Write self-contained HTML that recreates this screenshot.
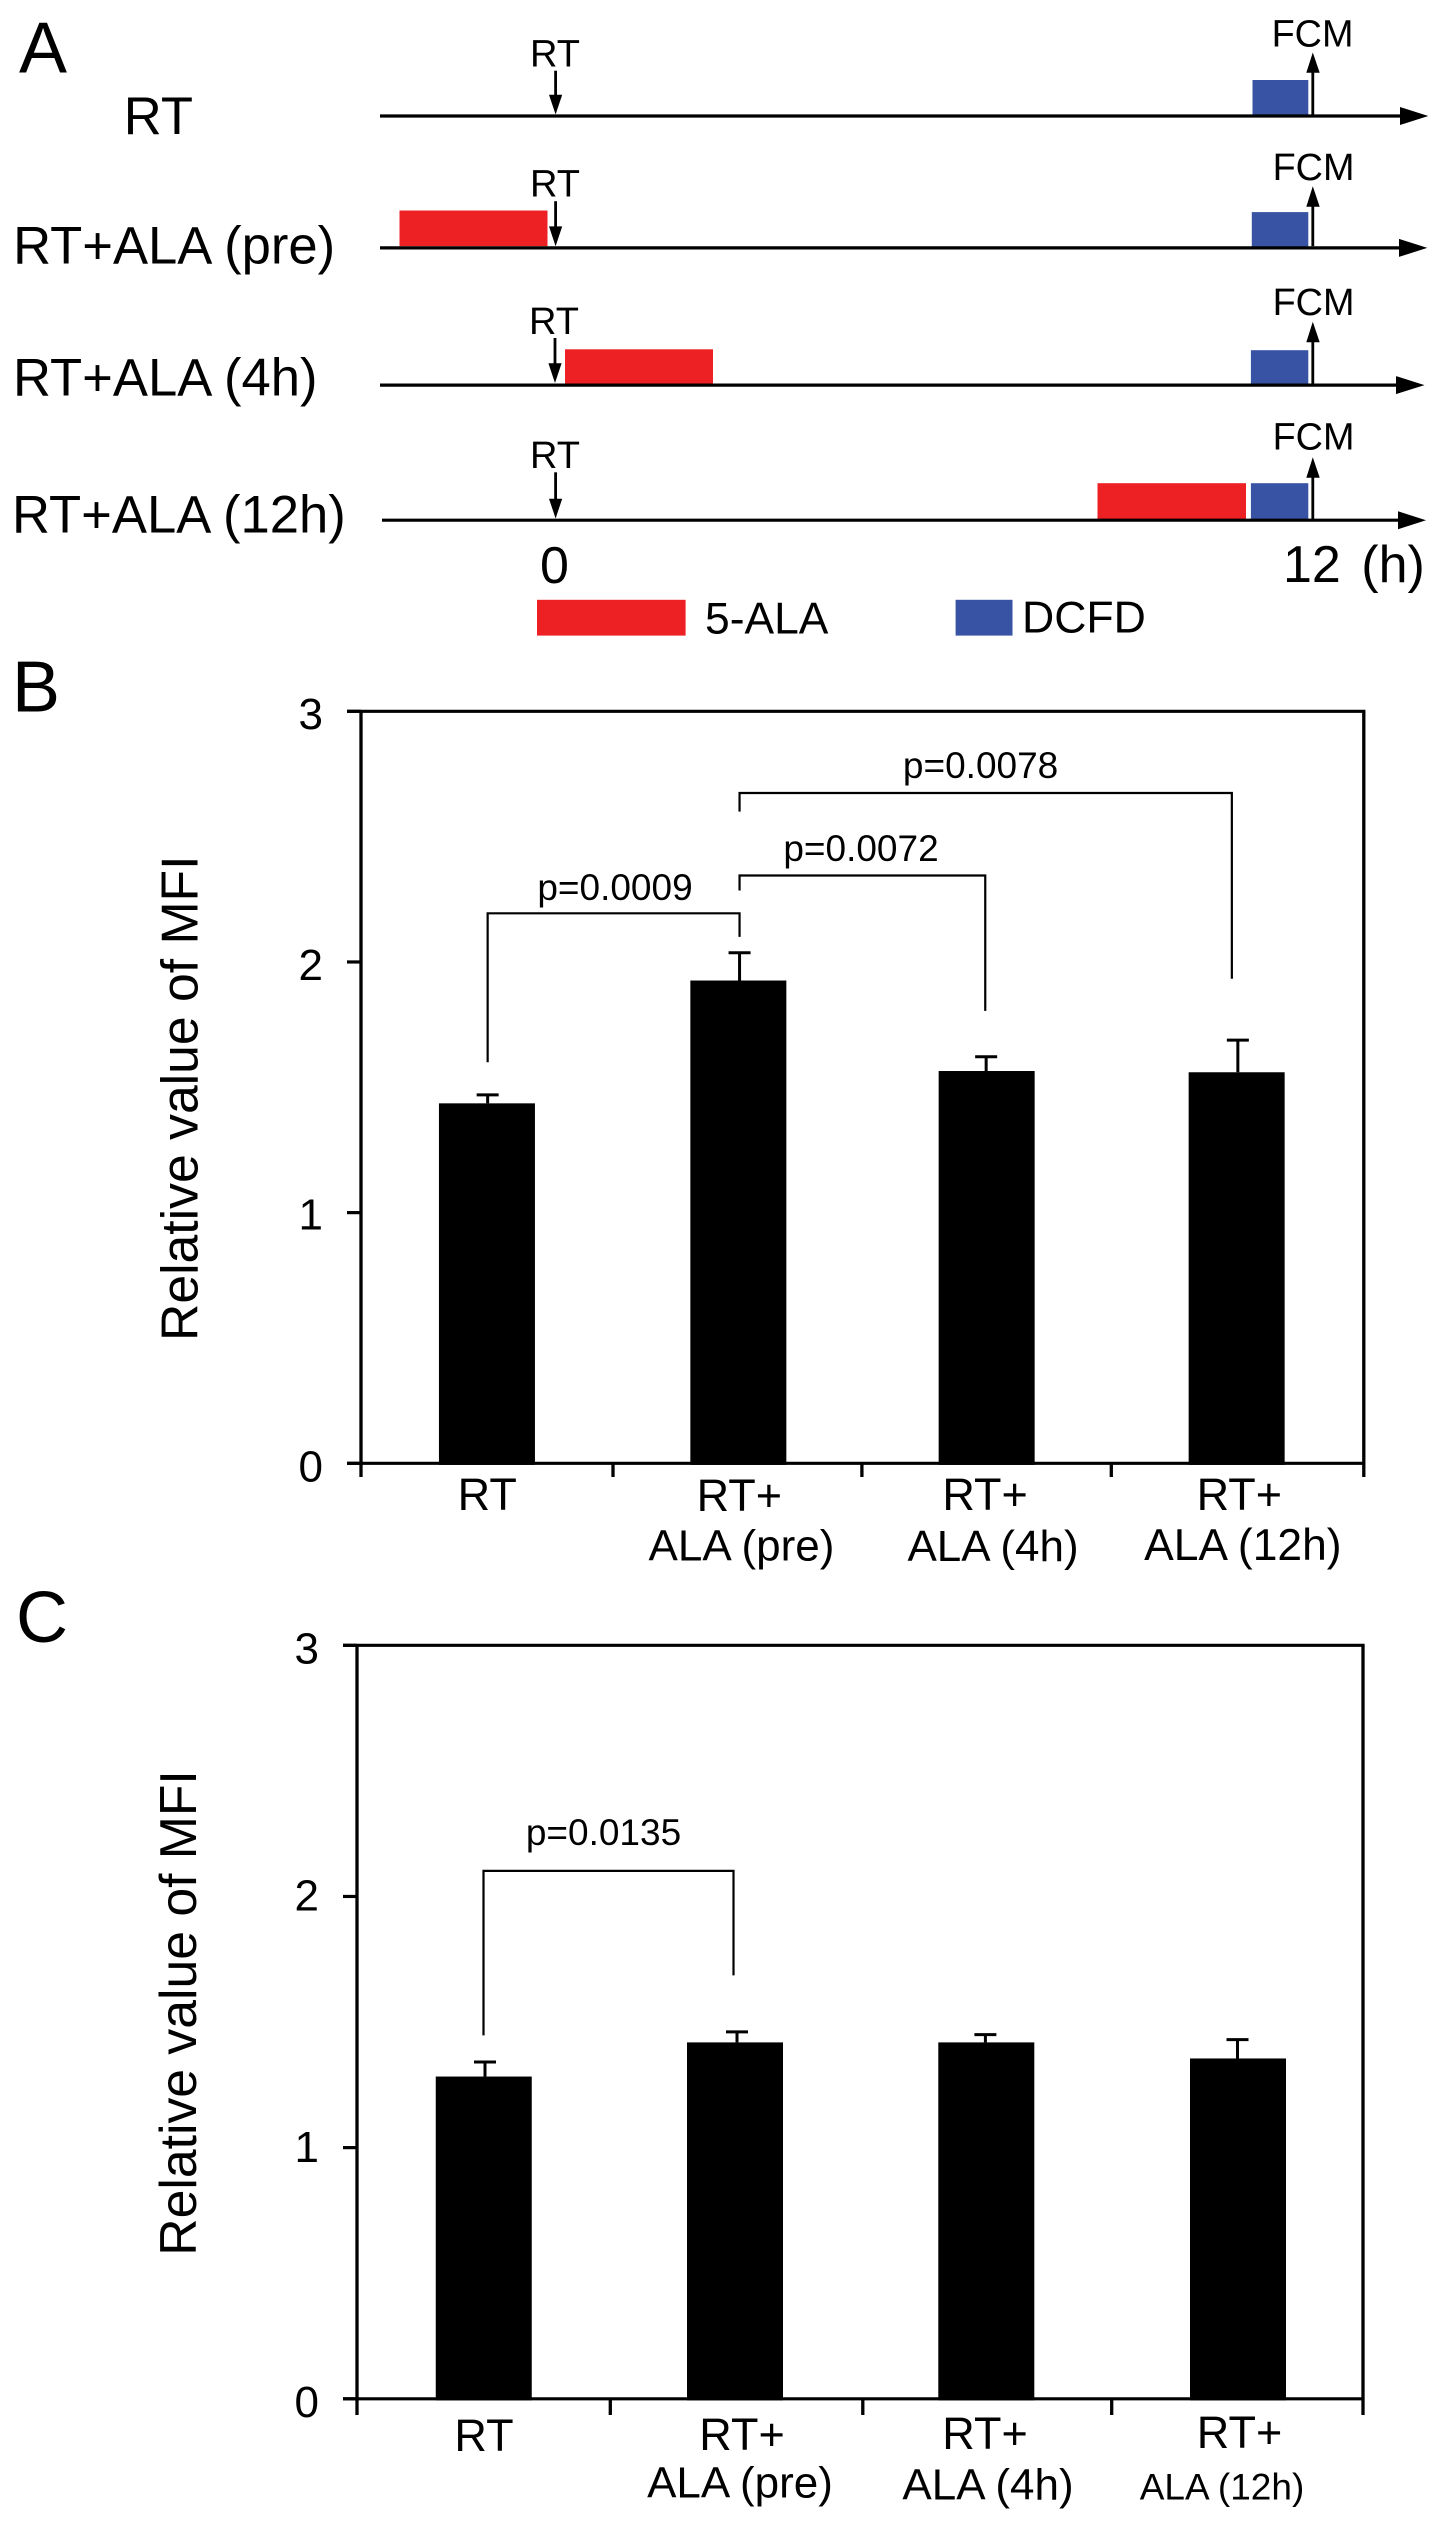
<!DOCTYPE html>
<html lang="en">
<head>
<meta charset="utf-8">
<title>Relative MFI chart</title>
<style>
html,body{margin:0;padding:0;background:#fff;}
svg{display:block;}
text{font-family:"Liberation Sans",Arial,sans-serif;fill:#000;}
</style>
</head>
<body>
<svg id="figure" xmlns="http://www.w3.org/2000/svg" width="1441" height="2523" viewBox="0 0 1441 2523">
<rect x="0" y="0" width="1441" height="2523" fill="#ffffff"/>

<g id="panel-a">
  <text x="19" y="72.4" font-size="72">A</text>

  <text x="123.8" y="133.8" font-size="52.6">RT</text>
  <text x="13.1" y="263.3" font-size="52.6">RT+ALA (pre)</text>
  <text x="13" y="395.6" font-size="52.6">RT+ALA (4h)</text>
  <text x="12" y="532.4" font-size="52.6">RT+ALA (12h)</text>

  <g>
    <rect x="399.5" y="210.5" width="148" height="35.7" fill="#ed2024"/>
    <rect x="565" y="349.3" width="148" height="35" fill="#ed2024"/>
    <rect x="1097.5" y="483.2" width="148.5" height="36" fill="#ed2024"/>
    <rect x="1252.5" y="80" width="55.8" height="35" fill="#3953a4"/>
    <rect x="1251.8" y="212.1" width="56.5" height="34.5" fill="#3953a4"/>
    <rect x="1250.9" y="350.2" width="57.4" height="34" fill="#3953a4"/>
    <rect x="1250.9" y="483.2" width="57.4" height="36" fill="#3953a4"/>
  </g>

  <g>
    <line x1="380" y1="116" x2="1403" y2="116" stroke="#000" stroke-width="3.2"/>
    <polygon points="1400,107 1428.3,116 1400,125" fill="#000"/>
    <line x1="555.6" y1="70.7" x2="555.6" y2="97" stroke="#000" stroke-width="2.8"/>
    <polygon points="549,94.7 562.2,94.7 555.6,114.5" fill="#000"/>
    <text x="555" y="66.5" font-size="38" text-anchor="middle">RT</text>
    <line x1="1312.8" y1="71" x2="1312.8" y2="115" stroke="#000" stroke-width="2.8"/>
    <polygon points="1306.3,72.7 1319.7,72.7 1312.8,52.5" fill="#000"/>
    <text x="1312.5" y="46.5" font-size="37.8" text-anchor="middle">FCM</text>
  </g>

  <g>
    <line x1="380" y1="247.9" x2="1402" y2="247.9" stroke="#000" stroke-width="3.2"/>
    <polygon points="1399,238.9 1427.3,247.9 1399,256.9" fill="#000"/>
    <line x1="555.6" y1="201.2" x2="555.6" y2="228" stroke="#000" stroke-width="2.8"/>
    <polygon points="549,226.4 562.2,226.4 555.6,246.2" fill="#000"/>
    <text x="555" y="196.6" font-size="38" text-anchor="middle">RT</text>
    <line x1="1312.8" y1="205" x2="1312.8" y2="246.2" stroke="#000" stroke-width="2.8"/>
    <polygon points="1306.3,206.7 1319.7,206.7 1312.8,186.3" fill="#000"/>
    <text x="1313.5" y="180" font-size="37.8" text-anchor="middle">FCM</text>
  </g>

  <g>
    <line x1="380" y1="385.1" x2="1398" y2="385.1" stroke="#000" stroke-width="3.2"/>
    <polygon points="1396,376.1 1424.5,385.1 1396,394.1" fill="#000"/>
    <line x1="555" y1="338" x2="555" y2="365" stroke="#000" stroke-width="2.8"/>
    <polygon points="548.4,363.2 561.6,363.2 555,383" fill="#000"/>
    <text x="554" y="333.8" font-size="38" text-anchor="middle">RT</text>
    <line x1="1312.8" y1="340" x2="1312.8" y2="384" stroke="#000" stroke-width="2.8"/>
    <polygon points="1306.3,342.2 1319.7,342.2 1312.8,321.8" fill="#000"/>
    <text x="1313.5" y="315" font-size="37.8" text-anchor="middle">FCM</text>
  </g>

  <g>
    <line x1="382" y1="520.2" x2="1400" y2="520.2" stroke="#000" stroke-width="3.2"/>
    <polygon points="1398,511.2 1426,520.2 1398,529.2" fill="#000"/>
    <line x1="555.6" y1="472.3" x2="555.6" y2="500" stroke="#000" stroke-width="2.8"/>
    <polygon points="549,498.7 562.2,498.7 555.6,518.5" fill="#000"/>
    <text x="555" y="468" font-size="38" text-anchor="middle">RT</text>
    <line x1="1312.8" y1="476" x2="1312.8" y2="519" stroke="#000" stroke-width="2.8"/>
    <polygon points="1306.3,477.7 1319.7,477.7 1312.8,457.3" fill="#000"/>
    <text x="1313.5" y="449.6" font-size="37.8" text-anchor="middle">FCM</text>
  </g>

  <text x="554.5" y="583" font-size="52" text-anchor="middle">0</text>
  <text x="1283" y="582" font-size="52" word-spacing="6">12 (h)</text>

  <g>
    <rect x="537" y="599.8" width="148.6" height="35.8" fill="#ed2024"/>
    <text x="705" y="633.5" font-size="44.4">5-ALA</text>
    <rect x="955.6" y="599.8" width="56.9" height="35.8" fill="#3953a4"/>
    <text x="1022" y="632.6" font-size="44.6">DCFD</text>
  </g>
</g>

<g id="panel-b">
  <text x="12" y="711.3" font-size="72">B</text>
</g>
<g id="panel-c">
  <text x="16" y="1642" font-size="72">C</text>
</g>
</svg>

<script>
// ---- chart data ----
const yTickValues = [0, 1, 2, 3];
const yAxisTitle = "Relative value of MFI";

const categoryLine1 = ["RT", "RT+", "RT+", "RT+"];
const categoryLine2 = ["", "ALA (pre)", "ALA (4h)", "ALA (12h)"];

const valuesB = [1.436, 1.926, 1.565, 1.56];
const errorsB = [0.034, 0.111, 0.057, 0.128];
const valuesC = [1.283, 1.419, 1.419, 1.355];
const errorsC = [0.058, 0.042, 0.031, 0.075];

// comparison brackets: category pair, level of the bar, and where each leg stops
const bracketLabelsB = ["p=0.0009", "p=0.0072", "p=0.0078"];
const bracketFromB = [0, 1, 1];
const bracketToB = [1, 2, 3];
const bracketLevelB = [2.194, 2.345, 2.674];
const bracketLeftEndB = [1.60, 2.285, 2.60];
const bracketRightEndB = [2.10, 1.805, 1.933];

const bracketLabelsC = ["p=0.0135"];
const bracketFromC = [0];
const bracketToC = [1];
const bracketLevelC = [2.102];
const bracketLeftEndC = [1.447];
const bracketRightEndC = [1.686];

// ---- drawing ----
const SVG_NS = "http://www.w3.org/2000/svg";

function makeLine(parent, x1, y1, x2, y2, width) {
  const el = document.createElementNS(SVG_NS, "line");
  el.setAttribute("x1", x1);
  el.setAttribute("y1", y1);
  el.setAttribute("x2", x2);
  el.setAttribute("y2", y2);
  el.setAttribute("stroke", "#000");
  el.setAttribute("stroke-width", width);
  el.setAttribute("stroke-linecap", "butt");
  parent.appendChild(el);
  return el;
}

function makeText(parent, content, x, y, size, anchor) {
  const el = document.createElementNS(SVG_NS, "text");
  el.setAttribute("x", x);
  el.setAttribute("y", y);
  el.setAttribute("font-size", size);
  el.setAttribute("text-anchor", anchor);
  el.textContent = content;
  parent.appendChild(el);
  return el;
}

function drawChart(root, cfg, values, errors, bracket) {
  const yScale = function (v) {
    return cfg.bottom - (v / 3) * (cfg.bottom - cfg.top);
  };
  const band = (cfg.right - cfg.left) / values.length;
  const xScale = function (i) {
    return cfg.left + (i + 0.5) * band;
  };
  const half = 1.6;

  // bars and error bars
  values.forEach(function (v, i) {
    const bar = document.createElementNS(SVG_NS, "rect");
    const cx = xScale(i) + cfg.barDx[i];
    bar.setAttribute("x", cx - cfg.barWidth / 2);
    bar.setAttribute("y", yScale(v));
    bar.setAttribute("width", cfg.barWidth);
    bar.setAttribute("height", cfg.bottom - yScale(v) + 1.6);
    bar.setAttribute("fill", "#000");
    
    
    root.appendChild(bar);

    const ex = xScale(i) + cfg.errDx[i];
    const top = yScale(v + errors[i]);
    const stem = makeLine(root, ex, top, ex, yScale(v), 3);
    
    
    const cap = makeLine(root, ex - 11, top, ex + 11, top, 3);
    
    
  });

  // frame
  const frameTop = makeLine(root, cfg.left - cfg.tickLen, cfg.top, cfg.right + half, cfg.top, 3.2);
  
  
  const frameLeft = makeLine(root, cfg.left, cfg.top, cfg.left, cfg.tail, 3.3);
  
  
  const frameRight = makeLine(root, cfg.right, cfg.top, cfg.right, cfg.tail, 3.3);
  
  
  const frameBottom = makeLine(root, cfg.left - cfg.tickLen, cfg.bottom, cfg.right, cfg.bottom, 3.2);
  
  

  // y ticks and tick labels
  yTickValues.forEach(function (t) {
    const tick = makeLine(root, cfg.left - cfg.tickLen, yScale(t), cfg.left, yScale(t), 3.2);
    
    
    const label = makeText(root, String(t), cfg.tickLabelX, yScale(t) + cfg.tickLabelDy[t], 44, "end");
    
    
  });

  // x separators
  for (let i = 1; i < values.length; i++) {
    const sx = cfg.left + i * band + cfg.sepDx[i - 1];
    const sep = makeLine(root, sx, cfg.bottom, sx, cfg.tail, 3.3);
    
    
  }

  // category labels
  categoryLine1.forEach(function (s, i) {
    const a = makeText(root, s, xScale(i) + cfg.line1Dx[i], cfg.line1Y[i], 45, "middle");
    
    
  });
  categoryLine2.forEach(function (s, i) {
    if (!s) return;
    const b = makeText(root, s, xScale(i) + cfg.line2Dx[i], cfg.line2Y[i], cfg.line2Size[i], "middle");
    
    
  });

  // y axis title
  const title = makeText(root, yAxisTitle, 0, 0, 51.7, "start");
  title.setAttribute("transform", "translate(" + cfg.titleX + " " + cfg.titleY + ") rotate(-90)");
  
  

  // brackets
  bracket.labels.forEach(function (label, k) {
    const xa = xScale(bracket.from[k]) + cfg.bracketDx[bracket.from[k]];
    const xb = xScale(bracket.to[k]) + cfg.bracketDx[bracket.to[k]];
    const yTop = yScale(bracket.level[k]);
    const path = document.createElementNS(SVG_NS, "polyline");
    path.setAttribute("points",
      xa + "," + yScale(bracket.leftEnd[k]) + " " +
      xa + "," + yTop + " " +
      xb + "," + yTop + " " +
      xb + "," + yScale(bracket.rightEnd[k]));
    path.setAttribute("fill", "none");
    path.setAttribute("stroke", "#000");
    path.setAttribute("stroke-width", "2.2");
    
    
    root.appendChild(path);
    const t = makeText(root, label, cfg.pLabelX[k], cfg.pLabelY[k], 37, "middle");
    
    
  });
}

drawChart(document.getElementById("panel-b"), {
  left: 361, right: 1363.8, top: 711.3, bottom: 1463.3, tail: 1477, tickLen: 14,
  barWidth: 96, barDx: [0.6, 1.3, -1.1, -1.8], errDx: [1.3, 2.5, -1.6, -0.6],
  bracketDx: [1.3, 2.5, -2.5, -6.6], sepDx: [1.3, -0.5, -1.8],
  tickLabelX: 323, tickLabelDy: [18, 17, 18, 17.7],
  line1Dx: [0.9, 2.3, -2.7, 0.9], line1Y: [1510, 1511, 1510, 1510],
  line2Dx: [0, 4.4, 5.3, 4.4], line2Y: [0, 1560.3, 1561, 1560], line2Size: [44, 44, 44, 44.4],
  titleX: 197.5, titleY: 1341,
  pLabelX: [615, 861, 980.6], pLabelY: [900, 861, 777.9]
}, valuesB, errorsB, {
  labels: bracketLabelsB, from: bracketFromB, to: bracketToB,
  level: bracketLevelB, leftEnd: bracketLeftEndB, rightEnd: bracketRightEndB
});

drawChart(document.getElementById("panel-c"), {
  left: 357, right: 1363, top: 1645.3, bottom: 2398.8, tail: 2415, tickLen: 14,
  barWidth: 96, barDx: [1, 0.75, 0.55, 0.75], errDx: [2.25, 2.75, -0.35, 0.25],
  bracketDx: [0.75, -0.75, 0, 0], sepDx: [1.8, 2.8, 0.2],
  tickLabelX: 319, tickLabelDy: [18.2, 14.6, 14.2, 18],
  line1Dx: [1.25, 7.75, -0.75, 2.25], line1Y: [2450.8, 2450, 2448.8, 2448],
  line2Dx: [0, 5.75, 2.25, -15.25], line2Y: [0, 2497.7, 2499.6, 2499.6], line2Size: [44, 44, 44, 37],
  titleX: 196, titleY: 2255.7,
  pLabelX: [603.5], pLabelY: [1845]
}, valuesC, errorsC, {
  labels: bracketLabelsC, from: bracketFromC, to: bracketToC,
  level: bracketLevelC, leftEnd: bracketLeftEndC, rightEnd: bracketRightEndC
});
</script>
</body>
</html>
